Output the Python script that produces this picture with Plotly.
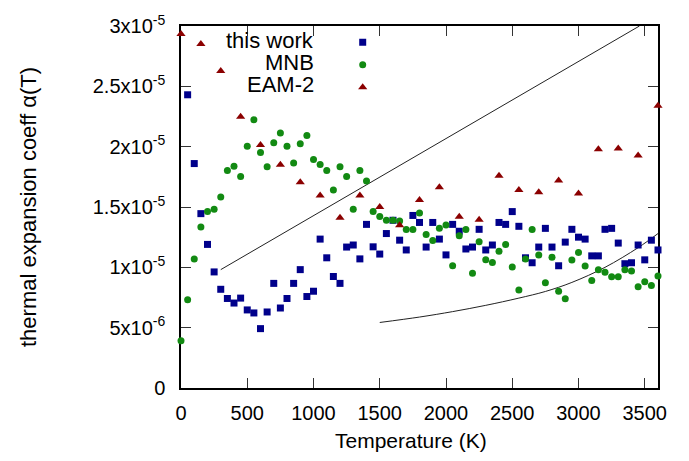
import plotly.graph_objects as go

# ---------------- data ----------------
T_work = [50, 100, 150, 200, 250, 300, 350, 400, 450, 500, 550, 600, 650, 700, 750, 800, 850, 900,
          950, 1000, 1050, 1100, 1150, 1200, 1250, 1300, 1350, 1400, 1450, 1500, 1550, 1600, 1650,
          1700, 1750, 1800, 1850, 1900, 1950, 2000, 2050, 2100, 2150, 2200, 2250, 2300, 2350, 2400,
          2450, 2500, 2550, 2600, 2650, 2700, 2750, 2800, 2850, 2900, 2950, 3000, 3050, 3100, 3150,
          3200, 3250, 3300, 3350, 3400, 3450, 3500, 3550, 3600]
a_work = [2.43e-5, 1.86e-5, 1.445e-5, 1.19e-5, 9.62e-6, 8.18e-6, 7.42e-6, 7.04e-6, 7.45e-6, 6.47e-6,
          6.22e-6, 4.92e-6, 6.3e-6, 8.67e-6, 6.63e-6, 7.42e-6, 8.67e-6, 9.81e-6, 7.58e-6, 8.02e-6,
          1.234e-5, 1.079e-5, 9.24e-6, 8.67e-6, 1.168e-5, 1.185e-5, 1.07e-5, 1.356e-5, 1.17e-5, 1.11e-5,
          1.28e-5, 1.39e-5, 1.225e-5, 1.144e-5, 1.43e-5, 1.372e-5, 1.168e-5, 1.372e-5, 1.234e-5, 1.103e-5,
          1.356e-5, 1.299e-5, 1.152e-5, 1.168e-5, 1.315e-5, 1.144e-5, 1.185e-5, 1.372e-5, 1.356e-5, 1.462e-5,
          1.34e-5, 1.079e-5, 1.038e-5, 1.168e-5, 1.323e-5, 1.168e-5, 1.013e-5, 1.209e-5, 1.315e-5, 1.25e-5,
          1.234e-5, 1.095e-5, 1.095e-5, 1.315e-5, 1.323e-5, 1.201e-5, 1.03e-5, 1.038e-5, 1.185e-5, 1.062e-5,
          1.225e-5, 1.144e-5]

T_mnb = [0, 50, 100, 150, 200, 250, 300, 350, 400, 450, 500, 550, 600, 650, 700, 750, 800, 850, 900,
         950, 1000, 1050, 1100, 1150, 1200, 1250, 1300, 1350, 1400, 1450, 1500, 1550, 1600, 1650,
         1700, 1750, 1800, 1850, 1900, 1950, 2000, 2050, 2100, 2150, 2200, 2250, 2300, 2350, 2400,
         2450, 2500, 2550, 2600, 2650, 2700, 2750, 2800, 2850, 2900, 2950, 3000, 3050, 3100, 3150,
         3200, 3250, 3300, 3350, 3400, 3450, 3500, 3550, 3600]
a_mnb = [3.91e-6, 7.31e-6, 1.07e-5, 1.335e-5, 1.462e-5, 1.481e-5, 1.582e-5, 1.802e-5, 1.837e-5, 1.753e-5,
         2.003e-5, 2.223e-5, 1.951e-5, 1.834e-5, 2.033e-5, 2.114e-5, 2.003e-5, 1.865e-5, 2.024e-5, 2.093e-5,
         1.894e-5, 1.853e-5, 1.802e-5, 1.641e-5, 1.834e-5, 1.753e-5, 1.481e-5, 1.802e-5, 1.715e-5, 1.462e-5,
         1.421e-5, 1.391e-5, 1.391e-5, 1.383e-5, 1.313e-5, 1.313e-5, 1.451e-5, 1.272e-5, 1.223e-5, 1.323e-5,
         1.351e-5, 1.013e-5, 1.261e-5, 1.313e-5, 9.51e-6, 1.212e-5, 1.062e-5, 1.041e-5, 1.133e-5, 1.19e-5,
         1.003e-5, 8.13e-6, 1.07e-5, 1.313e-5, 1.103e-5, 8.72e-6, 1.084e-5, 8.02e-6, 7.39e-6, 1.06e-5,
         1.123e-5, 1.011e-5, 8.91e-6, 9.81e-6, 9.6e-6, 9.21e-6, 9.21e-6, 9.81e-6, 9.7e-6, 8.4e-6,
         8.8e-6, 8.5e-6, 9.29e-6]

T_eam = [0, 150, 300, 450, 600, 750, 900, 1050, 1200, 1350, 1500, 1650, 1800, 1950, 2100, 2250,
         2400, 2550, 2700, 2850, 3000, 3150, 3300, 3450, 3600]
a_eam = [2.933e-5, 2.851e-5, 2.628e-5, 2.248e-5, 2.014e-5, 1.851e-5, 1.706e-5, 1.595e-5, 1.41e-5,
         1.595e-5, 1.5e-5, 1.348e-5, 1.557e-5, 1.663e-5, 1.419e-5, 1.394e-5, 1.758e-5, 1.641e-5,
         1.622e-5, 1.72e-5, 1.612e-5, 1.979e-5, 1.984e-5, 1.927e-5, 2.34e-5]

# straight reference line
T_line1 = [300, 3460]
a_line1 = [9.81e-6, 3.0e-5]

# curved reference line
T_line2 = [1500, 1800, 2050, 2300, 2550, 2750, 2950, 3200, 3450, 3600]
a_line2 = [5.43e-6, 5.88e-6, 6.33e-6, 6.85e-6, 7.45e-6, 8.0e-6, 8.75e-6, 1.0e-5, 1.163e-5, 1.28e-5]

legend_labels = ["this work", "MNB", "EAM-2"]

x_ticks = [0, 500, 1000, 1500, 2000, 2500, 3000, 3500]
y_ticks = [0, 5e-6, 1e-5, 1.5e-5, 2e-5, 2.5e-5, 3e-5]
y_ticktext = ["0", "5x10<sup>-6</sup>", "1x10<sup>-5</sup>", "1.5x10<sup>-5</sup>",
              "2x10<sup>-5</sup>", "2.5x10<sup>-5</sup>", "3x10<sup>-5</sup>"]

FONT = "Liberation Sans, Arial, sans-serif"

fig = go.Figure()

fig.add_trace(go.Scatter(x=T_line1, y=a_line1, mode="lines",
                         line=dict(color="#222222", width=1), showlegend=False, hoverinfo="skip"))
fig.add_trace(go.Scatter(x=T_line2, y=a_line2, mode="lines",
                         line=dict(color="#222222", width=1, shape="spline"), showlegend=False,
                         hoverinfo="skip"))

fig.add_trace(go.Scatter(x=T_work, y=a_work, mode="markers", name=" ", cliponaxis=False,
                         marker=dict(symbol="square", size=7, color="#00008b")))
fig.add_trace(go.Scatter(x=T_mnb, y=a_mnb, mode="markers", name=" ", cliponaxis=False,
                         marker=dict(symbol="circle", size=7, color="#128a12")))
fig.add_trace(go.Scatter(x=T_eam, y=a_eam, mode="markers", name=" ", cliponaxis=False,
                         marker=dict(symbol="triangle-up", size=8, color="#8b0000")))

annotations = []
leg_y = [0.959, 0.898, 0.839]
for lab, yy in zip(legend_labels, leg_y):
    annotations.append(dict(text=lab, xref="paper", yref="paper", x=0.284, y=yy,
                            xanchor="right", yanchor="middle", showarrow=False,
                            font=dict(family=FONT, size=22, color="black")))

annotations.append(dict(text="Temperature (K)", xref="paper", yref="paper", x=0.483, y=0,
                        yshift=-52, xanchor="center", yanchor="middle", showarrow=False,
                        font=dict(family=FONT, size=21, color="black")))
annotations.append(dict(text="thermal expansion coeff α(T)", xref="paper", yref="paper", x=0,
                        y=0.5, xshift=-153, textangle=-90, xanchor="center", yanchor="middle",
                        showarrow=False, font=dict(family=FONT, size=22, color="black")))

fig.update_layout(
    width=689, height=461,
    margin=dict(l=181, r=31, t=20, b=73),
    paper_bgcolor="white", plot_bgcolor="white",
    font=dict(family=FONT, color="black"),
    showlegend=True,
    legend=dict(x=0.339, y=1.0, xanchor="left", yanchor="top", bgcolor="rgba(0,0,0,0)",
                font=dict(family=FONT, size=15), borderwidth=0, tracegroupgap=0),
    annotations=annotations,
    xaxis=dict(range=[0, 3600], tickvals=x_ticks, ticktext=[str(v) for v in x_ticks],
               ticks="inside", ticklen=10, tickcolor="#333333", tickwidth=1,
               showline=True, linecolor="black", linewidth=1.5, mirror="ticks",
               showgrid=False, zeroline=False, tickfont=dict(family=FONT, size=20),
               ticklabelstandoff=6, layer="below traces"),
    yaxis=dict(range=[0, 3e-5], tickvals=y_ticks, ticktext=y_ticktext,
               ticks="inside", ticklen=10, tickcolor="#333333", tickwidth=1,
               showline=True, linecolor="black", linewidth=1.5, mirror="ticks",
               showgrid=False, zeroline=False, tickfont=dict(family=FONT, size=20),
               ticklabelstandoff=10, layer="below traces"),
)

fig.write_html("out.html")
